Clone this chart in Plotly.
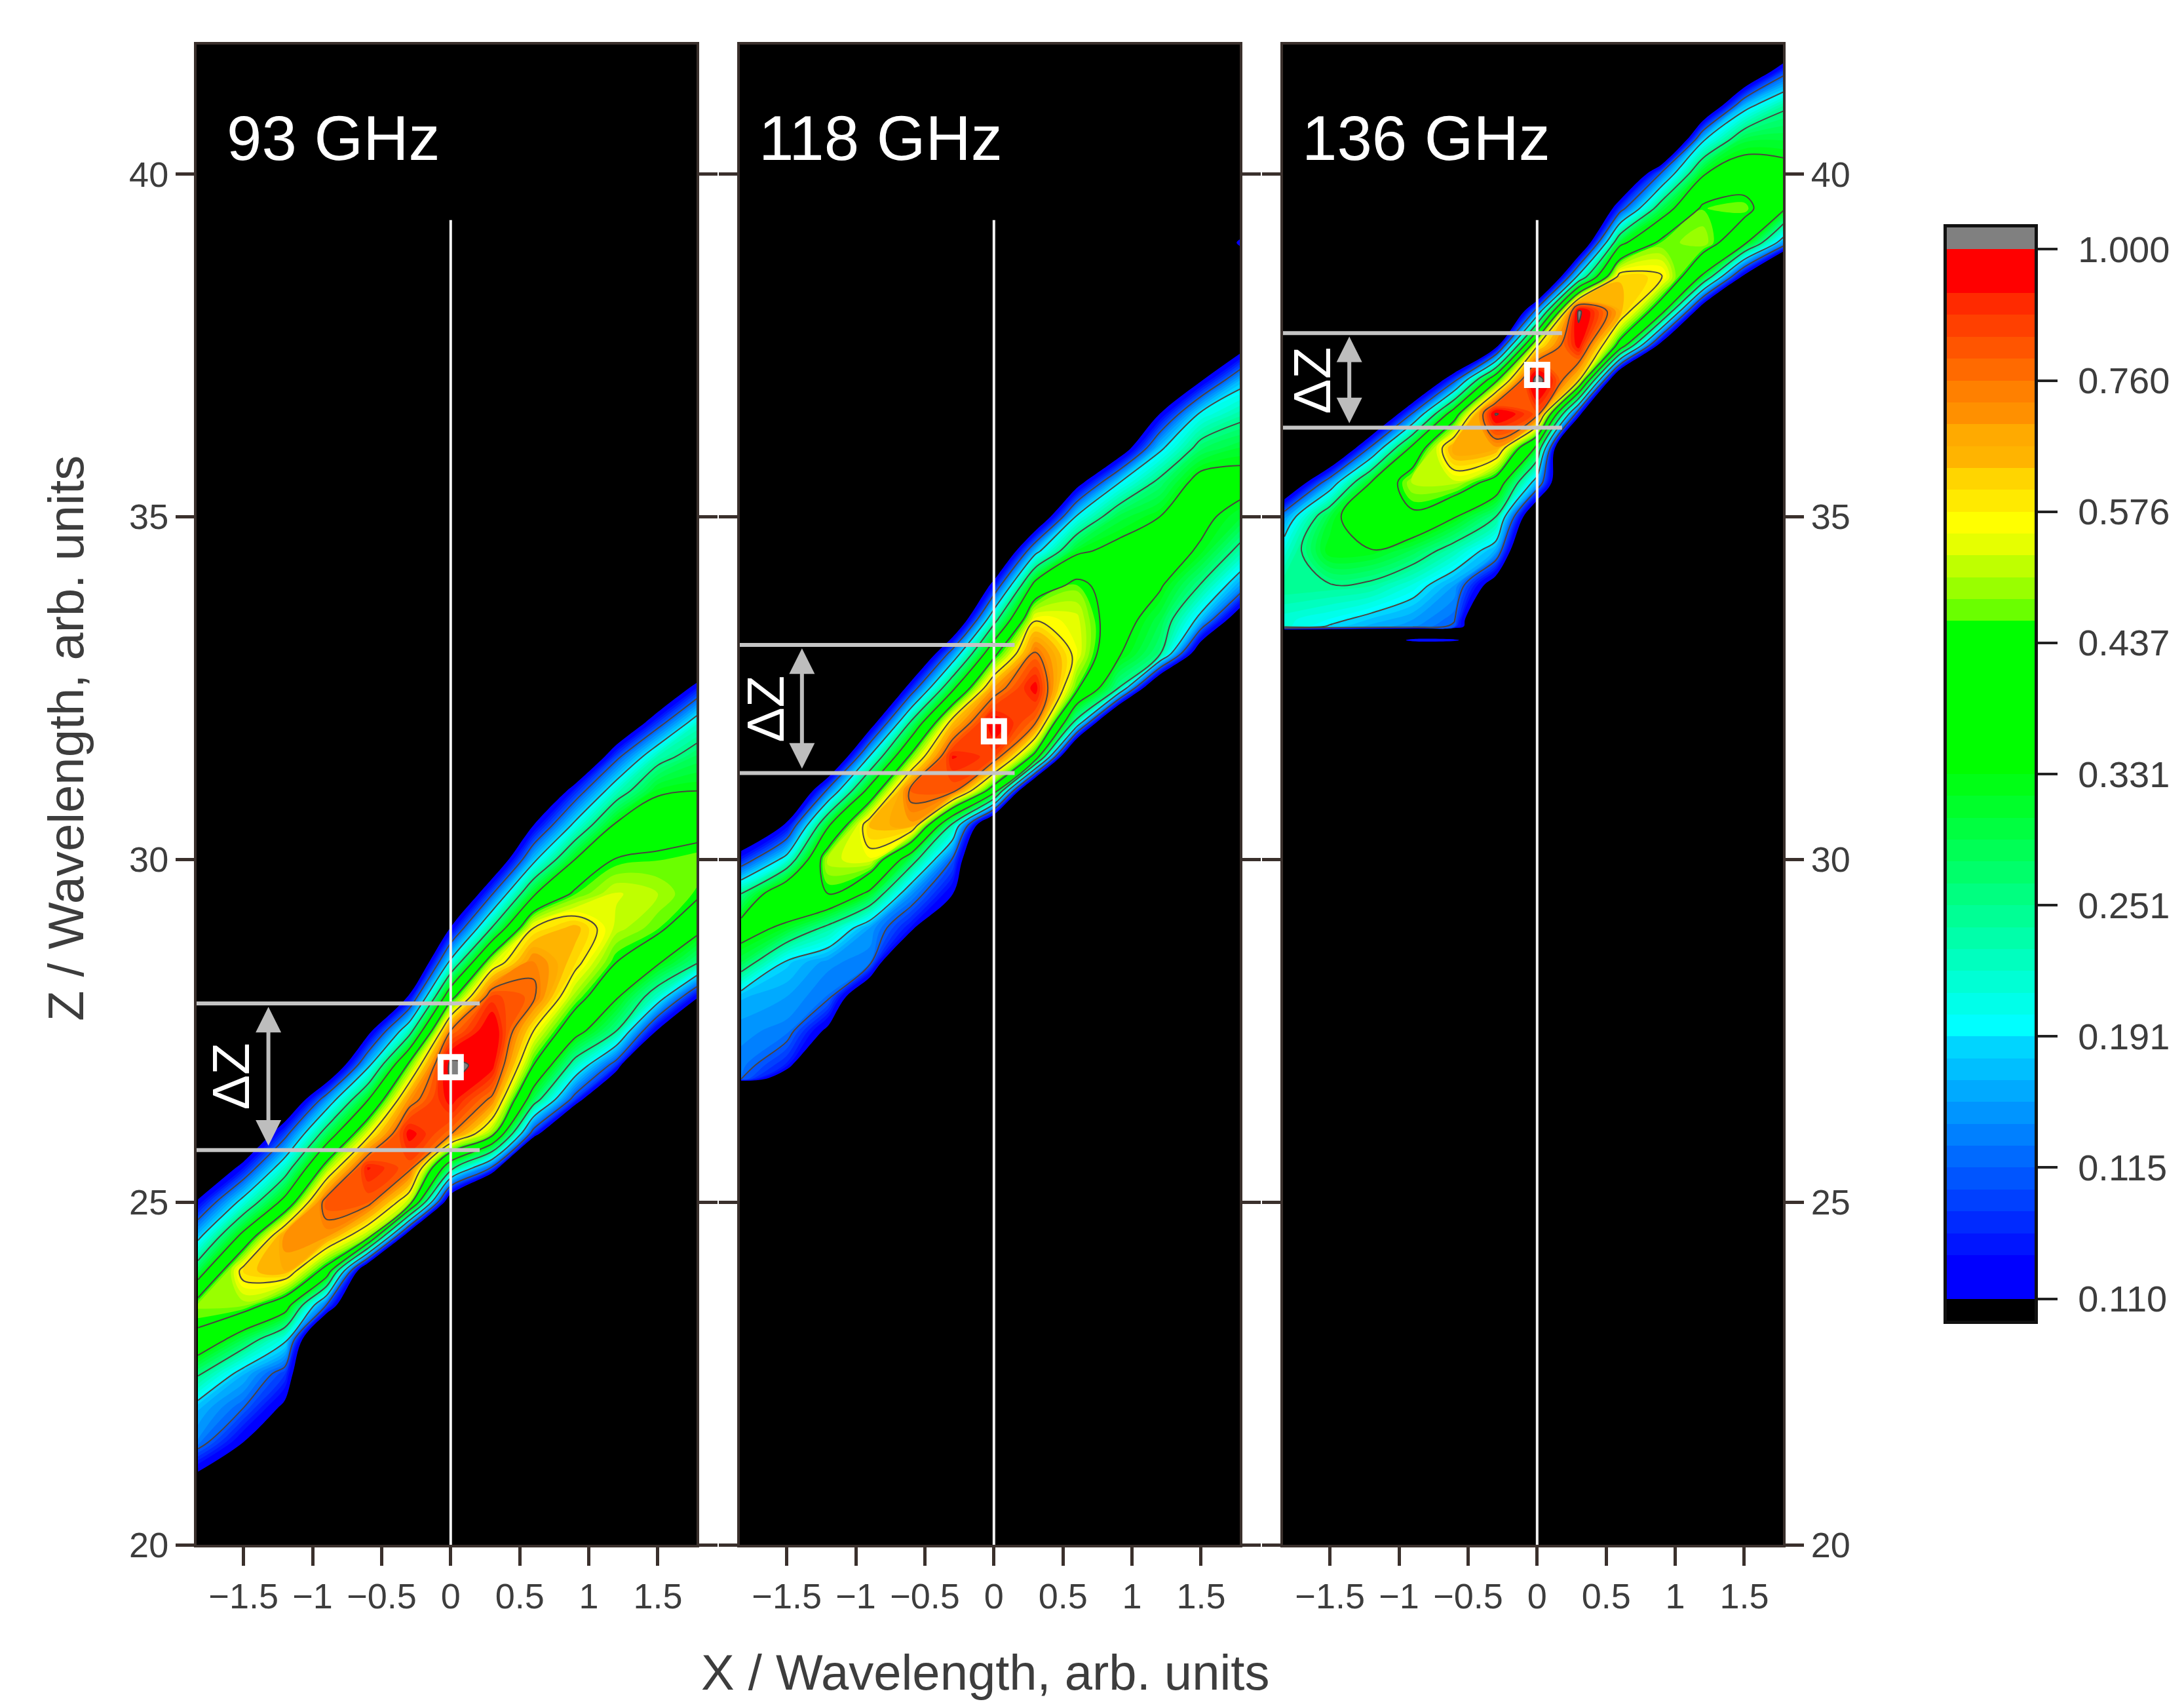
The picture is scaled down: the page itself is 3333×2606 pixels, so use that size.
import numpy as np
import plotly.graph_objects as go

# Levels below are in colour-bar tick units: 0 = the 0.110 tick, 8 = the 1.000 tick, negative = black
x_columns = [-1.83, -1.5, -1.2, -0.9, -0.6, -0.3, 0, 0.3, 0.6, 0.9, 1.2, 1.5, 1.8]
BLACK_LEVEL = -3

rows_93 = [20.5 + 0.5 * i for i in range(26)]
starts_93 = [21, 21.5, 22, 23, 24, 24.5, 25, 25, 25.5, 26, 26.5, 27, 27.5]
levels_93 = [
    [-0.2, 1.3, 1.7, 3.1, 4.8, 5.4, 3.5, 1.8, 0.15, -1.7],
    [0, 1, 1.7, 3.5, 5.4, 6.25, 4.3, 2.3, 0.35, -1.6],
    [-0.2, 0.7, 2.2, 4.5, 6.5, 6.8, 4.3, 2.55, 0.75, -1.4],
    [-3, 1, 4.7, 6.7, 7.3, 5.35, 3.4, 1.4, -1.5],
    [-1.5, 5.4, 7.2, 7.7, 5.8, 3.95, 1.8, -0.3, -2],
    [-1, 5.5, 7.2, 7.8, 6.75, 5.2, 2.65, 0.1, -2],
    [-1, 3.25, 7.05, 7.8, 8.15, 7, 4.7, 2.2, 0.05, -2],
    [-5, 0.9, 5.3, 6.9, 7.8, 8, 7.4, 5.6, 3.05, 0.95, -1.2],
    [-5, 0.6, 3.45, 5, 6, 7.1, 6.9, 6, 3.9, 1.8, 0, -2],
    [-3.5, 0.7, 2.65, 4.35, 5.4, 6.2, 6.45, 5.15, 4, 2.2, 0.5, -2],
    [-3, 0.65, 3, 4.1, 5, 5.6, 5.7, 5.05, 4.15, 2.55, 0.8, -1.5],
    [-5, -0.1, 2.5, 4.1, 5.2, 5.5, 5.15, 4.55, 3.9, 2.7, 0.65, -1.5],
    [-5, 0, 3, 4.2, 5.1, 5.3, 4.7, 4, 3.4, 2.5, 0.5, -2],
]

rows_118 = [26.7, 26.8] + [27 + 0.5 * i for i in range(26)]
starts_118 = [26.8, 26.8, 27, 28, 29, 29.5, 30.5, 31, 31.5, 32, 32.5, 33, 33.5]
levels_118 = [
    [1.2, 1.25, 1.4, 1.7, 3.5, 4.4, 3, 0.5, -1.5],
    [-1, 0.45, 1.25, 1.5, 1.9, 3.8, 5, 2.3, 0.15, -2],
    [-3, -0.2, 1.15, 1.4, 2.8, 5, 5.6, 3.9, 1.2, -1.8],
    [-1.5, 1.2, 1.5, 3.8, 5.8, 6.4, 4.35, 2.05, -0.6],
    [0.3, 1.4, 3.4, 6.6, 7.2, 5.2, 3.1, 0.5, -2],
    [0.05, 0.95, 2.8, 7.2, 7.7, 6.3, 3.8, 1.4, -1.5],
    [-2, 4.5, 7.4, 7.9, 6.7, 4.8, 2.7, 0.35, -2],
    [-3, 4.7, 7.05, 7.8, 7.05, 5.95, 4.35, 1.75, -1.2],
    [-3, 2.7, 5.15, 5.85, 5.75, 5.25, 3.85, 2.1, -0.4, -3],
    [-3, 3, 4.1, 4.4, 4.5, 4.25, 3.55, 1.95, -0.8, -3],
    [-2, 3.1, 3.55, 4.1, 4.4, 4, 3.2, 1.85, 0, -2],
    [-1, 1.75, 2.95, 3.9, 4.2, 4.35, 3.3, 2.15, -0.1, -3],
    [-1, 1.4, 2.7, 3.65, 4.3, 3.7, 2.8, 1.75, -0.4, -3, -3, 0.5, -3],
]

rows_136 = [33.1, 33.2, 33.3, 33.4] + [33.5 + 0.5 * i for i in range(18)]
starts_136 = [33.4, 33.4, 33.4, 33.2, 33.2, 34, 35, 36, 36.5, 37, 37.5, 38, 38.5]
levels_136 = [
    [2.4, 2.4, 3, 2.4, 1.45, -1.4],
    [1.95, 2.15, 2.95, 4, 3.65, 1.5, -1.9],
    [1.6, 1.8, 2.85, 3.95, 4.95, 4.05, 1.2, -2],
    [0.6, -3, 1.4, 1.5, 2.3, 3.45, 4.85, 5.55, 4.3, 1.1, -2.2],
    [0.4, -3, 0.9, 1.05, 1.5, 2.65, 4.05, 5.6, 6.7, 4.6, 0.75, -3],
    [-0.6, 1.6, 3, 4.65, 6.6, 8.05, 4.8, -0.4, -3],
    [-1.5, 1.6, 3.75, 7.25, 8.3, 5.95, 1.35, -3],
    [-5, 0.4, 6.2, 7.8, 8.1, 2.25, -1.5],
    [-5, -2, 4.7, 6.5, 6.3, 3.75, 0.65, -2],
    [-5, -0.5, 4.4, 6.1, 5.2, 3.5, 1.15, -3],
    [-5, -1, 3.85, 5.5, 5.15, 3.95, 1.9, -1.5],
    [-4.5, -0.3, 4.2, 5.3, 4.5, 3.6, 1.7, -1.5],
    [-5, 1.4, 4, 4.3, 3.65, 2.9, 0.8, -2],
]

panel_names = ['93 GHz', '118 GHz', '136 GHz']
name_x = [-1.63, -1.71, -1.71]
peak_z = [26.97, 31.87, 37.07]
dz_top = [27.9, 33.13, 37.68]
dz_bottom = [25.76, 31.26, 36.3]
dz_line_end = [0.21, 0.15, 0.18]
arrow_x = [-1.32, -1.39, -1.36]
dz_text_x = [-1.59, -1.65, -1.63]

x_ticks = [-1.5, -1, -0.5, 0, 0.5, 1, 1.5]
x_labels = ['\u22121.5', '\u22121', '\u22120.5', '0', '0.5', '1', '1.5']
y_ticks = [20, 25, 30, 35, 40]

bar_labels = ['0.110', '0.115', '0.191', '0.251', '0.331', '0.437', '0.576', '0.760', '1.000']
# black below the scale, 48 colour steps (6 per tick), grey above it
band_colors = [
    '#000000',
    '#0000ff', '#0000ff', '#0015ff', '#002aff', '#0040ff', '#0055ff',
    '#006aff', '#0080ff', '#0095ff', '#00aaff', '#00bfff', '#00d5ff',
    '#00ffff', '#00ffea', '#00ffd5', '#00ffbf', '#00ffaa', '#00ff95',
    '#00ff80', '#00ff6a', '#00ff55', '#00ff40', '#00ff2a', '#00ff15',
    '#00ff00', '#00ff00', '#00ff00', '#00ff00', '#00ff00', '#00ff00',
    '#00ff00', '#6aff00', '#99ff00', '#bfff00', '#e6ff00', '#ffff00',
    '#ffea00', '#ffd500', '#ffb400', '#ffaa00', '#ff9000', '#ff8000',
    '#ff6a00', '#ff5500', '#ff4000', '#ff2a00', '#ff0000', '#ff0000',
    '#808080',
]

W, H = 3333, 2606
PAGE = 8  # the page body margin moves everything by this much
DARK = '#3a302c'
TEXT = '#3d3d3d'
FONT = 'Liberation Sans'


def grid(rows, starts, levels):
    # columns are typed from the first row that matters; the rest of the panel is black
    out = np.full((len(rows), len(starts)), float(BLACK_LEVEL))
    for c, (first, vals) in enumerate(zip(starts, levels)):
        i = rows.index(first)
        out[i:i + len(vals), c] = vals
    return out * 6


scale = [[i / 49, c] for i, c in enumerate(band_colors)]
panels = [(rows_93, starts_93, levels_93), (rows_118, starts_118, levels_118), (rows_136, starts_136, levels_136)]
lefts = [300 - PAGE, 1129 - PAGE, 1958 - PAGE]
top, bottom = 68 - PAGE, 2357 - PAGE

fig = go.Figure()
annotations = []
for p, (rows, starts, levels) in enumerate(panels):
    sfx = '' if p == 0 else str(p + 1)
    xa, ya = 'x' + sfx, 'y' + sfx
    z = grid(rows, starts, levels)
    fig.add_trace(go.Contour(x=x_columns, y=rows, z=z, xaxis=xa, yaxis=ya, colorscale=scale, showscale=False,
                             contours=dict(coloring='fill', start=0, end=48, size=1),
                             line=dict(width=0, smoothing=1), hoverinfo='skip'))
    fig.add_trace(go.Contour(x=x_columns, y=rows, z=z, xaxis=xa, yaxis=ya, showscale=False,
                             contours=dict(coloring='none', start=6, end=48, size=6),
                             line=dict(color='#4b4440', width=2, smoothing=1), hoverinfo='skip'))
    # centre line, delta-Z bounds and peak marker
    fig.add_trace(go.Scatter(x=[0, 0], y=[20, 39.33], mode='lines', xaxis=xa, yaxis=ya,
                             line=dict(color='#f2f2f2', width=4), showlegend=False))
    for zl in (dz_top[p], dz_bottom[p]):
        fig.add_trace(go.Scatter(x=[-1.84, dz_line_end[p]], y=[zl, zl], mode='lines', xaxis=xa, yaxis=ya,
                                 line=dict(color='#c4c4c4', width=6), showlegend=False))
    fig.add_trace(go.Scatter(x=[0], y=[peak_z[p]], mode='markers', xaxis=xa, yaxis=ya, showlegend=False,
                             marker=dict(symbol='square-open', size=31, color='white', line=dict(color='white', width=9))))
    annotations.append(dict(x=arrow_x[p], y=dz_top[p] - 0.05, ax=arrow_x[p], ay=dz_bottom[p] + 0.05,
                            xref=xa, yref=ya, axref=xa, ayref=ya, text='', showarrow=True,
                            arrowside='end+start', arrowhead=2, arrowsize=1.3, arrowwidth=6, arrowcolor='#bdbdbd'))
    annotations.append(dict(x=dz_text_x[p], y=(dz_top[p] + dz_bottom[p]) / 2, xref=xa, yref=ya, text='\u0394Z',
                            textangle=-90, showarrow=False, font=dict(family=FONT, size=80, color='white')))
    annotations.append(dict(x=name_x[p], y=40.53, xref=xa, yref=ya, text=panel_names[p], xanchor='left',
                            showarrow=False, font=dict(family=FONT, size=96, color='white')))
    axis_common = dict(showgrid=False, zeroline=False, showline=True, linecolor=DARK, linewidth=4,
                       ticks='outside', tickcolor=DARK, tickwidth=5, ticklen=28,
                       tickfont=dict(family=FONT, size=54, color=TEXT))
    fig.layout['xaxis' + sfx] = dict(axis_common, domain=[lefts[p] / W, (lefts[p] + 763) / W], range=[-1.84, 1.78],
                                     anchor=ya, tickvals=x_ticks, ticktext=x_labels, mirror=True)
    fig.layout['yaxis' + sfx] = dict(axis_common, domain=[1 - bottom / H, 1 - top / H], range=[20, 41.89],
                                     anchor=xa, tickvals=y_ticks, mirror='ticks',
                                     side='right' if p == 2 else 'left', showticklabels=p != 1)

# colour bar as its own small axes, so that the ticks sit where the reference has them
fig.add_trace(go.Heatmap(x=[0], y=[k + 0.5 for k in range(-1, 49)], z=[[k] for k in range(-1, 49)],
                         xaxis='x4', yaxis='y4', colorscale=scale, zmin=-1, zmax=48, showscale=False, hoverinfo='skip'))
fig.update_layout(
    xaxis4=dict(domain=[(2971 - PAGE) / W, (3105 - PAGE) / W], range=[-0.5, 0.5], anchor='y4', showticklabels=False, ticks='',
                showgrid=False, zeroline=False, showline=True, linecolor='#111111', linewidth=5, mirror=True),
    yaxis4=dict(domain=[1 - (2015 - PAGE) / H, 1 - (347 - PAGE) / H], range=[-1, 49], anchor='x4', side='right',
                tickvals=list(range(0, 49, 6)), ticktext=bar_labels, ticks='outside', ticklen=30, tickwidth=4,
                tickcolor='#222222', tickfont=dict(family=FONT, size=56, color=TEXT), ticklabelstandoff=20,
                showgrid=False, zeroline=False, showline=True, linecolor='#111111', linewidth=5, mirror=True),
)

annotations.append(dict(x=(1503 - PAGE) / W, y=1 - (2551 - PAGE) / H, xref='paper', yref='paper', showarrow=False,
                        xanchor='center', yanchor='middle',
                        text='X / Wavelength, arb. units', font=dict(family=FONT, size=76, color=TEXT)))
annotations.append(dict(x=(100 - PAGE) / W, y=1 - (1127 - PAGE) / H, xref='paper', yref='paper', showarrow=False,
                        xanchor='center', yanchor='middle', textangle=-90,
                        text='Z / Wavelength, arb. units', font=dict(family=FONT, size=76, color=TEXT)))

fig.update_layout(width=W, height=H, margin=dict(l=0, r=0, t=0, b=0, autoexpand=False), paper_bgcolor='white',
                  plot_bgcolor='black', showlegend=False, annotations=annotations)
fig.write_html("out.html")
